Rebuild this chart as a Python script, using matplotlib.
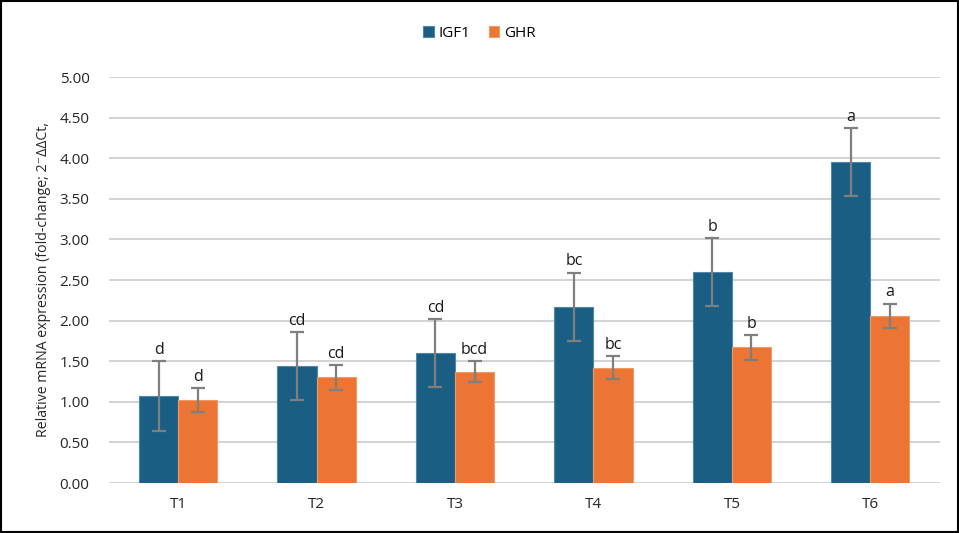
import matplotlib
matplotlib.use("Agg")
import matplotlib.pyplot as plt
from matplotlib.patches import Rectangle
import numpy as np

plt.rcParams['font.family'] = ['Open Sans', 'DejaVu Sans']

# data
treatments = ["T1", "T2", "T3", "T4", "T5", "T6"]
igf1 = [1.07, 1.44, 1.60, 2.17, 2.60, 3.95]
igf1_err = [0.43, 0.42, 0.42, 0.42, 0.42, 0.42]
ghr = [1.02, 1.30, 1.37, 1.42, 1.67, 2.06]
ghr_err = [0.15, 0.15, 0.13, 0.14, 0.15, 0.15]
igf1_letters = ["d", "cd", "cd", "bc", "b", "a"]
ghr_letters = ["d", "cd", "bcd", "bc", "b", "a"]

blue = "#1a5e83"
orange = "#ec7434"

fig = plt.figure(figsize=(9.59, 5.33), dpi=100)
ax = fig.add_axes([0.1137, 0.0938, 0.866, 0.7617])

x = np.arange(len(treatments))
w = 0.283

b1 = ax.bar(x - w / 2, igf1, w, color=blue, edgecolor="#4f86aa", linewidth=0.8,
            label="IGF1", zorder=2)
b2 = ax.bar(x + w / 2, ghr, w, color=orange, edgecolor="#f09a66", linewidth=0.8,
            label="GHR", zorder=2)

ekw = dict(fmt="none", ecolor="#7f7f7f", elinewidth=1.6, capsize=5, capthick=1.6, zorder=3)
e1 = ax.errorbar(x - w / 2, igf1, yerr=igf1_err, **ekw)
e2 = ax.errorbar(x + w / 2, ghr, yerr=ghr_err, **ekw)
for e in (e1, e2):
    for cap in e[1]:
        cap.set_color("#404040")

# significance letters above the error bars
for xi, v, err, lab in zip(x - w / 2, igf1, igf1_err, igf1_letters):
    ax.text(xi, v + err + 0.04, lab, ha="center", va="bottom", fontsize=11.5, color="#1a1a1a")
for xi, v, err, lab in zip(x + w / 2, ghr, ghr_err, ghr_letters):
    ax.text(xi, v + err + 0.04, lab, ha="center", va="bottom", fontsize=11.5, color="#1a1a1a")

ax.set_xlim(-0.5, len(treatments) - 0.5)
ax.set_ylim(0, 5)
ax.set_yticks(np.arange(0, 5.01, 0.5))
ax.set_yticklabels([f"{t:.2f}" for t in np.arange(0, 5.01, 0.5)])
ax.set_xticks(x)
ax.set_xticklabels(treatments)
ax.tick_params(axis="both", length=0, labelsize=11, colors="#262626")
ax.tick_params(axis="y", pad=14)
ax.tick_params(axis="x", pad=10)

ax.grid(axis="y", color="#d0d0d0", linewidth=1.3, zorder=0)
ax.set_axisbelow(True)
for s in ax.spines.values():
    s.set_visible(False)

ax.set_ylabel("Relative mRNA expression (fold-change; 2\u207b\u0394\u0394Ct,",
              fontsize=10.2, color="#262626", labelpad=6)

fig.legend(handles=[b1, b2], labels=["IGF1", "GHR"], loc="center",
           bbox_to_anchor=(0.5, 0.938), ncol=2, frameon=False, fontsize=11,
           handlelength=0.7, handleheight=0.7, handletextpad=0.3, columnspacing=1.2)

# thin black frame round the whole image
fig.patches.append(Rectangle((0.001, 0.002), 0.998, 0.996, transform=fig.transFigure,
                             fill=False, edgecolor="black", linewidth=1.5))

fig.savefig("out.png", dpi=100)
